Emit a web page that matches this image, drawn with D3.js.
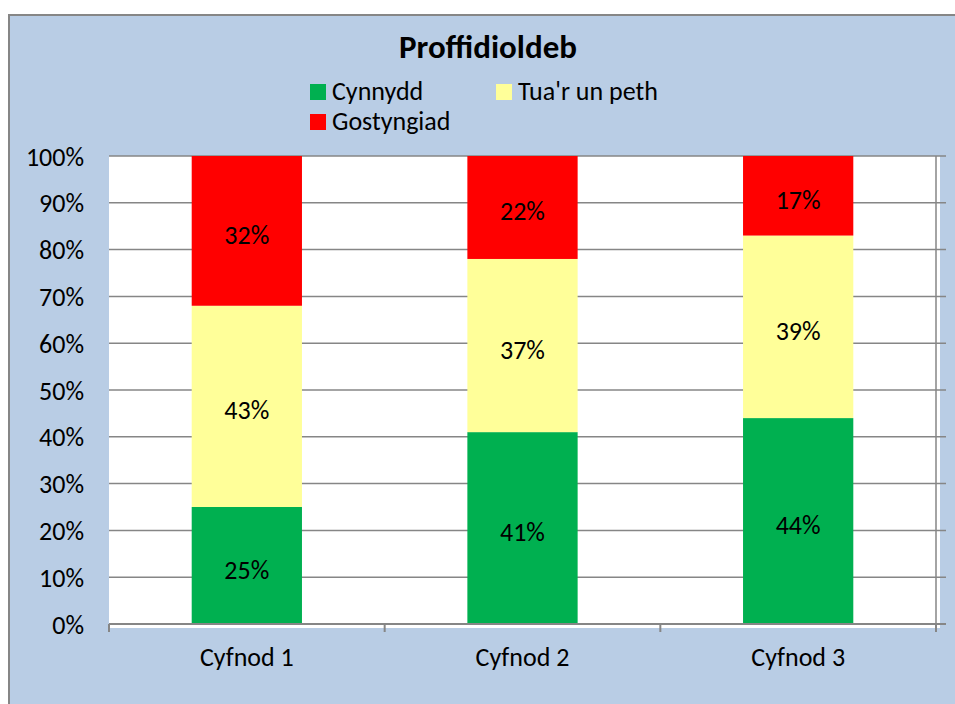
<!DOCTYPE html>
<html lang="cy">
<head>
    <meta charset="utf-8">
    <title>Proffidioldeb</title>
    <script src="https://d3js.org/d3.v7.min.js"></script>
    <style>
        body, html {
            margin: 0;
            padding: 0;
            background: #ffffff;
        }
        svg text {
            font-family: Carlito, Calibri, "Open Sans", sans-serif;
            fill: #000000;
        }
    </style>
</head>
<body>
<div id="chart"></div>

<script type="text/javascript">
    // Data
    var categories = ["Cyfnod 1", "Cyfnod 2", "Cyfnod 3"];
    var seriesNames = ["Cynnydd", "Tua'r un peth", "Gostyngiad"];
    var cynnydd = [25, 41, 44];
    var tuaRUnPeth = [43, 37, 39];
    var gostyngiad = [32, 22, 17];
    var yTicks = [0, 10, 20, 30, 40, 50, 60, 70, 80, 90, 100];
    var colours = ["#00B050", "#FFFF99", "#FF0000"];

    var w = 955;
    var h = 704;

    // plot area
    var plotLeft = 109, plotRight = 936, plotTop = 156, plotBottom = 624;

    var svg = d3.select("#chart")
        .append("svg")
        .attr("width", w)
        .attr("height", h);

    // chart background
    svg.append("rect")
        .attr("x", 9)
        .attr("y", 15)
        .attr("width", 980)
        .attr("height", 720)
        .attr("fill", "#B9CDE5")
        .attr("stroke", "#868686")
        .attr("stroke-width", 2);

    // plot background
    svg.append("rect")
        .attr("x", plotLeft)
        .attr("y", plotTop)
        .attr("width", plotRight - plotLeft + 4)
        .attr("height", plotBottom - plotTop + 4)
        .attr("fill", "#ffffff");

    var xScale = d3.scaleBand()
        .domain(categories)
        .range([plotLeft, plotRight])
        .paddingInner(0.6)
        .paddingOuter(0.3);

    var yScale = d3.scaleLinear()
        .domain([0, 100])
        .range([plotBottom, plotTop]);

    // gridlines
    svg.append("g")
        .selectAll("line")
        .data(yTicks.filter(function (d) { return d > 0; }))
        .enter()
        .append("line")
        .attr("x1", plotLeft)
        .attr("x2", plotRight + 10)
        .attr("y1", function (d) { return yScale(d); })
        .attr("y2", function (d) { return yScale(d); })
        .attr("stroke", "#868686")
        .attr("stroke-width", 1.5);

    // right edge line
    svg.append("line")
        .attr("x1", plotRight)
        .attr("x2", plotRight)
        .attr("y1", plotTop)
        .attr("y2", plotBottom + 8)
        .attr("stroke", "#868686")
        .attr("stroke-width", 1.5);

    // stacked data
    var rows = categories.map(function (c, i) {
        return {cat: c, a: cynnydd[i], b: tuaRUnPeth[i], c: gostyngiad[i]};
    });
    var stack = d3.stack().keys(["a", "b", "c"]);
    var layers = stack(rows);

    var layerG = svg.append("g")
        .selectAll("g")
        .data(layers)
        .enter()
        .append("g")
        .attr("fill", function (d, i) { return colours[i]; });

    layerG.selectAll("rect")
        .data(function (d) { return d; })
        .enter()
        .append("rect")
        .attr("x", function (d) { return xScale(d.data.cat); })
        .attr("y", function (d) { return yScale(d[1]); })
        .attr("width", xScale.bandwidth())
        .attr("height", function (d) { return yScale(d[0]) - yScale(d[1]); });

    // data labels
    layerG.selectAll("text")
        .data(function (d) { return d; })
        .enter()
        .append("text")
        .attr("x", function (d) { return xScale(d.data.cat) + xScale.bandwidth() / 2; })
        .attr("y", function (d) { return (yScale(d[0]) + yScale(d[1])) / 2 + 4; })
        .attr("text-anchor", "middle")
        .attr("dominant-baseline", "central")
        .style("font-size", "26px")
        .text(function (d) { return (d[1] - d[0]) + "%"; });

    // y axis labels
    var yAxis = d3.axisLeft(yScale)
        .tickValues(yTicks)
        .tickSize(0)
        .tickPadding(25)
        .tickFormat(function (d) { return d + "%"; });

    var yG = svg.append("g")
        .attr("transform", "translate(" + plotLeft + ",0)")
        .call(yAxis);
    yG.select(".domain").remove();
    yG.selectAll("text")
        .style("font-size", "26px")
        .attr("dy", "0.35em");

    // x axis line and boundary ticks
    svg.append("line")
        .attr("x1", plotLeft)
        .attr("x2", plotRight + 10)
        .attr("y1", plotBottom)
        .attr("y2", plotBottom)
        .attr("stroke", "#868686")
        .attr("stroke-width", 2);

    var step = xScale.step();
    svg.append("g")
        .selectAll("line")
        .data(d3.range(categories.length + 1))
        .enter()
        .append("line")
        .attr("x1", function (i) { return plotLeft + i * step; })
        .attr("x2", function (i) { return plotLeft + i * step; })
        .attr("y1", plotBottom)
        .attr("y2", plotBottom + 8)
        .attr("stroke", "#868686")
        .attr("stroke-width", 2);

    var xAxis = d3.axisBottom(xScale)
        .tickSize(0)
        .tickPadding(24);
    var xG = svg.append("g")
        .attr("transform", "translate(0," + plotBottom + ")")
        .call(xAxis);
    xG.select(".domain").remove();
    xG.selectAll("text")
        .style("font-size", "26px");

    // title
    svg.append("text")
        .attr("x", 488)
        .attr("y", 58)
        .attr("text-anchor", "middle")
        .style("font-size", "33px")
        .style("font-weight", "bold")
        .text("Proffidioldeb");

    // legend
    var legendPos = [[310, 84], [496, 84], [310, 114]];
    var legend = svg.append("g")
        .selectAll("g")
        .data(seriesNames)
        .enter()
        .append("g")
        .attr("transform", function (d, i) {
            return "translate(" + legendPos[i][0] + "," + legendPos[i][1] + ")";
        });

    legend.append("rect")
        .attr("width", 16)
        .attr("height", 16)
        .attr("fill", function (d, i) { return colours[i]; });

    legend.append("text")
        .attr("x", 22)
        .attr("y", 16)
        .style("font-size", "26px")
        .text(function (d) { return d; });
</script>
</body>
</html>
